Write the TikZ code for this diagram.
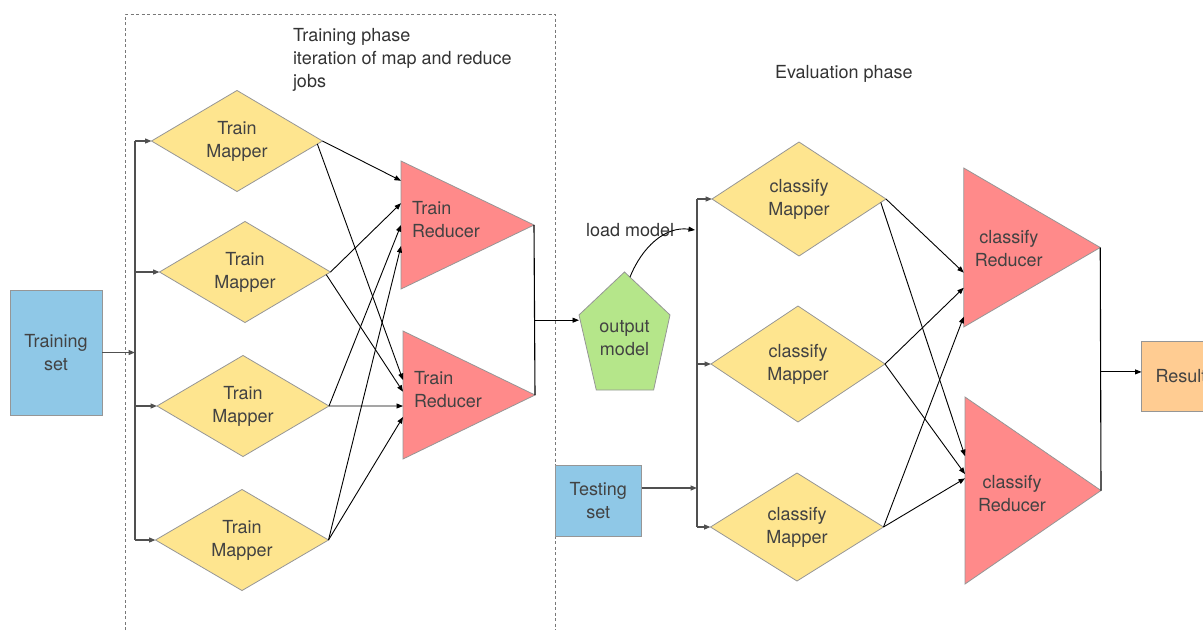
\documentclass[tikz,border=0pt]{standalone}
\usepackage{fontspec}
\setmainfont{TeX Gyre Heros}
\usetikzlibrary{shapes.geometric,arrows.meta,calc}

\definecolor{setblue}{RGB}{143,200,231}
\definecolor{mapyellow}{RGB}{254,229,143}
\definecolor{redred}{RGB}{255,138,138}
\definecolor{modelgreen}{RGB}{181,230,138}
\definecolor{resorange}{RGB}{255,204,146}
\definecolor{edgegray}{RGB}{150,150,150}
\definecolor{txtgray}{RGB}{66,66,66}
\definecolor{busgray}{RGB}{80,80,80}
\definecolor{framegray}{RGB}{120,120,120}

\begin{document}
\begin{tikzpicture}[x=1pt,y=-1pt,
  font=\fontsize{18}{23}\selectfont,
  every node/.style={inner sep=0pt,outer sep=0pt},
  lbl/.style={text=txtgray,align=center},
  plain/.style={text=black!80,align=left},
  mapper/.style={diamond,draw=edgegray,line width=0.8pt,fill=mapyellow,
                 text=txtgray,align=center},
  databox/.style={rectangle,draw=edgegray,line width=0.8pt,text=txtgray,align=center},
  area/.style={rectangle,draw=none},
  redtri/.style={draw=edgegray,line width=0.8pt,fill=redred},
  arr/.style={-{Triangle[length=6.5pt,width=5pt]},line width=0.9pt,black},
  busline/.style={line width=1.5pt,busgray},
  busarr/.style={-{Triangle[length=6.5pt,width=5pt]},line width=1.3pt,busgray},
  outline/.style={line width=1.1pt,black},
  frame/.style={draw=framegray,line width=1pt,dash pattern=on 3pt off 2.5pt}
]
\useasboundingbox (0,0) rectangle (1203,630);
\clip (0,0) rectangle (1203,630);

% ---------- training phase frame and titles ----------
\draw[frame] (125,630) -- (125,14) -- (555,14) -- (555,630);
\node[plain,anchor=north west] (ttitle) at (293,28)
  {Training phase\\iteration of map and reduce\\jobs};
\node[plain,anchor=west] (etitle) at (775,74) {Evaluation phase};

% ---------- training set and train mappers ----------
\node[databox,fill=setblue,minimum width=92pt,minimum height=125pt]
  (ts) at (56,352.5) {Training\\set};

\node[mapper,minimum width=171pt,minimum height=99pt] (d1) at (237,141) {Train\\Mapper};
\node[mapper,minimum width=171pt,minimum height=99pt] (d2) at (245,272) {Train\\Mapper};
\node[mapper,minimum width=172pt,minimum height=99pt] (d3) at (243,406) {Train\\Mapper};
\node[mapper,minimum width=173pt,minimum height=99pt] (d4) at (242,540) {Train\\Mapper};

% ---------- train reducers ----------
\node[area,minimum width=133pt,minimum height=128pt] (r1) at (467.5,225) {};
\node[area,minimum width=132pt,minimum height=128pt] (r2) at (469,395) {};
\draw[redtri] (r1.north west) -- (r1.east) -- (r1.south west) -- cycle;
\draw[redtri] (r2.north west) -- (r2.east) -- (r2.south west) -- cycle;
\node[lbl,align=left,anchor=west] (r1t) at ($(r1.west)+(11,-5)$) {Train\\Reducer};
\node[lbl,align=left,anchor=west] (r2t) at ($(r2.west)+(11,-5)$) {Train\\Reducer};

% ---------- distribution bus of the training set ----------
\coordinate (tb) at (135,0);
\draw[busline] (tb |- d1.west) -- (tb |- d4.west);
\draw[busarr] (ts.east) -- (tb |- ts.east);
\foreach \d in {d1,d2,d3,d4}
  \draw[busarr] (tb |- \d.west) -- (\d.west);

% ---------- mapper to reducer shuffle ----------
\draw[arr] (d1.east) -- ($(r1.north west)!0.154!(r1.south west)$);
\draw[arr] ($(d1.east)!0.06!(d1.south)$) -- ($(r2.north west)!0.383!(r2.south west)$);
\draw[arr] (d2.east) -- ($(r1.north west)!0.33!(r1.south west)$);
\draw[arr] ($(d2.east)!0.05!(d2.south)$) -- ($(r2.north west)!0.474!(r2.south west)$);
\draw[arr] (d3.east) -- ($(r1.north west)!0.5!(r1.south west)$);
\draw[arr] (d3.east) -- ($(r2.north west)!0.586!(r2.south west)$);
\draw[arr] (d4.east) -- ($(r1.north west)!0.664!(r1.south west)$);
\draw[arr] (d4.east) -- ($(r2.north west)!0.672!(r2.south west)$);

% ---------- output model ----------
\node[area,minimum width=91pt,minimum height=118pt] (model) at (624.5,331) {};
\coordinate (mur) at ($(model.north east)!0.364!(model.south east)$);
\coordinate (mul) at ($(model.north west)!0.364!(model.south west)$);
\coordinate (mbr) at ($(model.south west)!0.82!(model.south east)$);
\coordinate (mbl) at ($(model.south west)!0.19!(model.south east)$);
\draw[draw=edgegray,line width=0.8pt,fill=modelgreen]
  (model.north) -- (mur) -- (mbr) -- (mbl) -- (mul) -- cycle;
\node[lbl] (modelt) at ($(model.center)+(0,7)$) {output\\model};

\coordinate (rj) at ($(r1.east)!0.56!(r2.east)$);
\draw[outline] (r1.east) -- (r2.east);
\draw[arr] (rj) -- (model.west |- rj);

% ---------- evaluation phase ----------
\node[databox,fill=setblue,minimum width=86.6pt,minimum height=71pt]
  (tst) at (598.3,500.5) {Testing\\set};

\node[mapper,minimum width=174pt,minimum height=114pt] (c1) at (799,199) {classify\\Mapper};
\node[mapper,minimum width=174pt,minimum height=116pt] (c2) at (798,364) {classify\\Mapper};
\node[mapper,minimum width=173pt,minimum height=108pt] (c3) at (797,527) {classify\\Mapper};

\node[area,minimum width=136.5pt,minimum height=159pt] (cr1) at (1032,247.5) {};
\node[area,minimum width=136pt,minimum height=187pt] (cr2) at (1033,490.5) {};
\draw[redtri] (cr1.north west) -- (cr1.east) -- (cr1.south west) -- cycle;
\draw[redtri] (cr2.north west) -- (cr2.east) -- (cr2.south west) -- cycle;
\node[lbl] (cr1t) at ($(cr1.west)+(45,1)$) {classify\\Reducer};
\node[lbl] (cr2t) at ($(cr2.west)+(47,3)$) {classify\\Reducer};

% bus that feeds the classify mappers
\coordinate (cb) at (697,0);
\draw[busline] (cb |- c1.west) -- (cb |- c3.west);
\foreach \c in {c1,c2,c3}
  \draw[busarr] (cb |- \c.west) -- (\c.west);
\coordinate (tsto) at ($(tst.east)+(0,-12.5)$);
\draw[busarr] (tsto) -- (cb |- tsto);

% model loaded into the evaluation jobs
\node[plain,anchor=west] (lm) at (586,230) {load model};
\coordinate (ms) at ($(model.north)!0.12!(mur)$);
\draw[arr] (ms) .. controls +(12,-30) and +(-30,-4) .. ([xshift=-2pt]cb |- lm.east);

% classify shuffle
\draw[arr] (c1.east) -- ($(cr1.north west)!0.658!(cr1.south west)$);
\draw[arr] ($(c1.east)!0.06!(c1.south)$) -- ($(cr2.north west)!0.316!(cr2.south west)$);
\draw[arr] (c2.east) -- ($(cr1.north west)!0.753!(cr1.south west)$);
\draw[arr] (c2.east) -- ($(cr2.north west)!0.412!(cr2.south west)$);
\draw[arr] (c3.east) -- ($(cr1.north west)!0.935!(cr1.south west)$);
\draw[arr] (c3.east) -- ($(cr2.north west)!0.435!(cr2.south west)$);

% result
\node[databox,fill=resorange,minimum width=79pt,minimum height=70pt]
  (res) at (1181,376) {Result};
\coordinate (cj) at ($(cr1.east)!0.512!(cr2.east)$);
\draw[outline] (cr1.east) -- (cr2.east);
\draw[arr] (cj) -- (res.west |- cj);
\end{tikzpicture}
\end{document}
